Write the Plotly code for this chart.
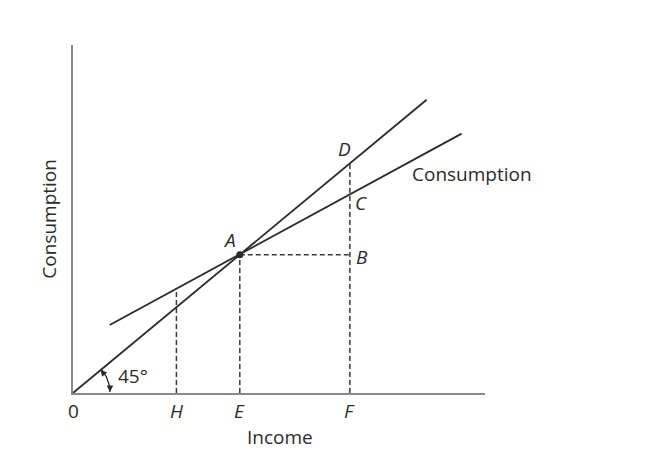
import numpy as np
import plotly.graph_objects as go

# income levels marked on the horizontal axis
income_ticks = ["0", "H", "E", "F"]
income_vals = [0, 62, 100, 166]

# 45 degree line (consumption = income)
line45_x = [0, 212]
line45_y = [0, 212]

# consumption function end points
cons_x = [22, 233]
cons_y = [49.2, 187.5]

# point A and the consumption value at H and F
point_a = (100, 100)
cons_at_h = 75.3
cons_at_f = 143.5

x_max, y_max = 247, 251.6
font = "Open Sans, Lato, sans-serif"
ink = "#2b2b2b"
fsize = 19

fig = go.Figure()

fig.add_trace(go.Scatter(x=line45_x, y=line45_y, mode="lines",
                         line=dict(color=ink, width=1.8), hoverinfo="skip"))
fig.add_trace(go.Scatter(x=cons_x, y=cons_y, mode="lines",
                         line=dict(color=ink, width=1.8), hoverinfo="skip"))

dash = dict(color="#3a3a3a", width=1.5, dash="5px,3px")
h, e, f = income_vals[1], income_vals[2], income_vals[3]
fig.add_trace(go.Scatter(x=[h, h], y=[0, cons_at_h], mode="lines", line=dash, hoverinfo="skip"))
fig.add_trace(go.Scatter(x=[e, e], y=[0, point_a[1]], mode="lines", line=dash, hoverinfo="skip"))
fig.add_trace(go.Scatter(x=[f, f], y=[0, f], mode="lines", line=dash, hoverinfo="skip"))
fig.add_trace(go.Scatter(x=[point_a[0], f], y=[point_a[1], point_a[1]], mode="lines",
                         line=dash, hoverinfo="skip"))

fig.add_trace(go.Scatter(x=[point_a[0]], y=[point_a[1]], mode="markers",
                         marker=dict(color=ink, size=7), hoverinfo="skip"))

# angle arc for the 45 degree marker (pixel radius, converted to data units)
sx, sy = 412 / x_max, 348 / y_max
theta_end = np.arctan2(sy, sx)
t = np.linspace(0.03, theta_end - 0.03, 30)
r = 37
fig.add_trace(go.Scatter(x=r * np.cos(t) / sx, y=r * np.sin(t) / sy, mode="lines",
                         line=dict(color=ink, width=1.3), hoverinfo="skip"))

annots = []
# arrowheads at the ends of the arc
annots.append(dict(x=r / sx, y=0.8, xref="x", yref="y", ax=0, ay=-7, text="",
                   showarrow=True, arrowhead=2, arrowsize=1, arrowwidth=1.3, arrowcolor=ink))
ex, ey = r * np.cos(theta_end) / sx, r * np.sin(theta_end) / sy
annots.append(dict(x=ex - 0.6, y=ey - 0.2, xref="x", yref="y",
                   ax=7 * np.sin(theta_end), ay=7 * np.cos(theta_end), text="",
                   showarrow=True, arrowhead=2, arrowsize=1, arrowwidth=1.3, arrowcolor=ink))

for lab, v in zip(income_ticks, income_vals):
    txt = lab if lab == "0" else "<i>" + lab + "</i>"
    annots.append(dict(x=v, y=0, xref="x", yref="y", text=txt, showarrow=False,
                       yshift=-18, font=dict(size=fsize, color=ink, family=font)))

annots.append(dict(x=124, y=0, xref="x", yref="y", text="Income", showarrow=False,
                   yshift=-44, font=dict(size=fsize, color=ink, family=font)))
annots.append(dict(x=0, y=126, xref="x", yref="y", text="Consumption", showarrow=False,
                   xshift=-24, textangle=-90, font=dict(size=fsize, color=ink, family=font)))
annots.append(dict(x=202, y=158, xref="x", yref="y", text="Consumption", showarrow=False,
                   xanchor="left", font=dict(size=fsize, color=ink, family=font)))
annots.append(dict(x=36, y=12.3, xref="x", yref="y", text="45°", showarrow=False,
                   font=dict(size=fsize, color=ink, family=font)))

points = [("A", point_a[0], point_a[1], -10, 15),
          ("D", f, f, -5, 14),
          ("C", f, cons_at_f, 11, -8),
          ("B", f, point_a[1], 12, -2)]
for lab, px, py, dx, dy in points:
    annots.append(dict(x=px, y=py, xref="x", yref="y", text="<i>" + lab + "</i>",
                       showarrow=False, xshift=dx, yshift=dy,
                       font=dict(size=fsize, color=ink, family=font)))

axis_style = dict(showgrid=False, zeroline=False, showticklabels=False, ticks="",
                  showline=True, linecolor="#8a8a8a", linewidth=2, fixedrange=True)

# page body adds an 8px offset, so the figure is drawn slightly smaller
fig.update_layout(
    width=645, height=442,
    margin=dict(l=65, r=168, t=37, b=57),
    plot_bgcolor="white", paper_bgcolor="white",
    showlegend=False,
    xaxis=dict(range=[0, x_max], **axis_style),
    yaxis=dict(range=[0, y_max], **axis_style),
    annotations=annots,
)

fig.write_html("out.html")
